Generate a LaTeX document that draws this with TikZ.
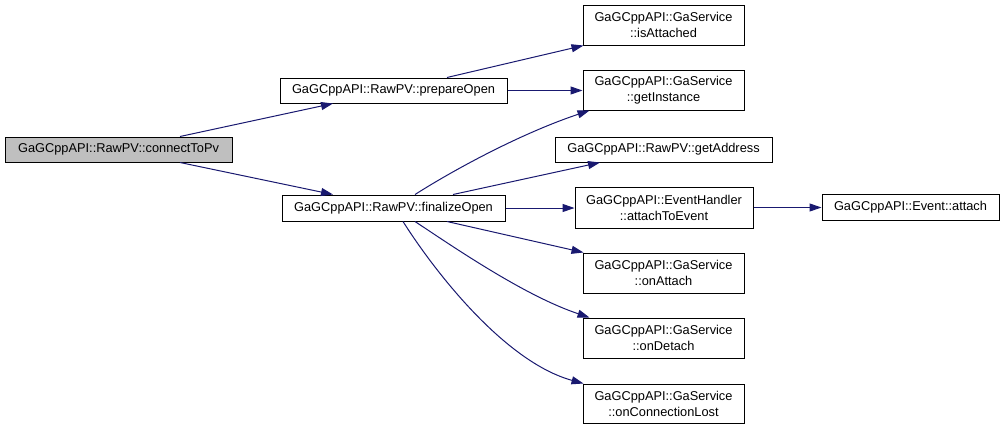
\documentclass[tikz,border=0pt]{standalone}
\usepackage{fontspec}
\setmainfont{Liberation Sans}
\usetikzlibrary{arrows.meta,calc}
\definecolor{edgeblue}{HTML}{191970}
\definecolor{curgray}{HTML}{BFBFBF}
\begin{document}
\begin{tikzpicture}[x=0.75pt,y=-0.75pt,
  fn/.style={draw=black,line width=0.75pt,fill=white,inner sep=0pt,align=center,
    font=\fontsize{9.6}{12}\selectfont},
  cur/.style={fn,fill=curgray},
  call/.style={draw=edgeblue,line width=0.75pt,-{Triangle[length=9pt,width=6pt,fill=edgeblue]}}]
\useasboundingbox (0,0) rectangle (1005,429);
\node[cur,minimum width=170.25pt,minimum height=18.75pt] (cpv) at (118.5,149.5) {GaGCppAPI::RawPV::connectToPv};
\node[fn,minimum width=170.25pt,minimum height=18.75pt] (prep) at (393.5,90.5) {GaGCppAPI::RawPV::prepareOpen};
\node[fn,minimum width=167.25pt,minimum height=19.5pt] (fin) at (393.5,208) {GaGCppAPI::RawPV::finalizeOpen};
\node[fn,minimum width=120.75pt,minimum height=30pt] (isAtt) at (663.5,25) {GaGCppAPI::GaService\\::isAttached};
\node[fn,minimum width=120.75pt,minimum height=30pt] (getInst) at (663.5,90) {GaGCppAPI::GaService\\::getInstance};
\node[fn,minimum width=162.75pt,minimum height=18.75pt] (getAddr) at (663.5,149.5) {GaGCppAPI::RawPV::getAddress};
\node[fn,minimum width=133.5pt,minimum height=30.75pt] (ate) at (664,207.5) {GaGCppAPI::EventHandler\\::attachToEvent};
\node[fn,minimum width=120.75pt,minimum height=30pt] (onAtt) at (663.5,273) {GaGCppAPI::GaService\\::onAttach};
\node[fn,minimum width=120.75pt,minimum height=30pt] (onDet) at (663.5,338) {GaGCppAPI::GaService\\::onDetach};
\node[fn,minimum width=120.75pt,minimum height=29.25pt] (onCL) at (663.5,403.5) {GaGCppAPI::GaService\\::onConnectionLost};
\node[fn,minimum width=132.75pt,minimum height=19.5pt] (evt) at (910.5,207.5) {GaGCppAPI::Event::attach};

\draw[call] ($(cpv.north)+(61.5,0)$) -- ($(prep.south)+(-60.5,0)$);
\draw[call] ($(cpv.south)+(61.5,0)$) -- ($(fin.north)+(-60.5,0)$);
\draw[call] ($(prep.north)+(53.5,0)$) -- ($(isAtt.south west)+(1,0)$);
\draw[call] (prep.east) -- (getInst.west|-prep.east);
\draw[call] ($(fin.north)+(21.5,0)$) .. controls (460,166) and (525,132) .. ($(getInst.south west)+(7,0)$);
\draw[call] ($(fin.north)+(59.5,0)$) -- ($(getAddr.south)+(-63.5,0)$);
\draw[call] (fin.east) -- (ate.west|-fin.east);
\draw[call] ($(fin.south)+(53.5,0)$) -- ($(onAtt.north west)+(1,0)$);
\draw[call] ($(fin.south)+(21.5,0)$) .. controls (455,248) and (525,296) .. ($(onDet.north west)+(7,0)$);
\draw[call] ($(fin.south)+(9.5,0)$) .. controls (435,272) and (505,362) .. ($(onCL.north west)+(1,0)$);
\draw[call] (ate.east) -- (evt.west|-ate.east);
\end{tikzpicture}
\end{document}
